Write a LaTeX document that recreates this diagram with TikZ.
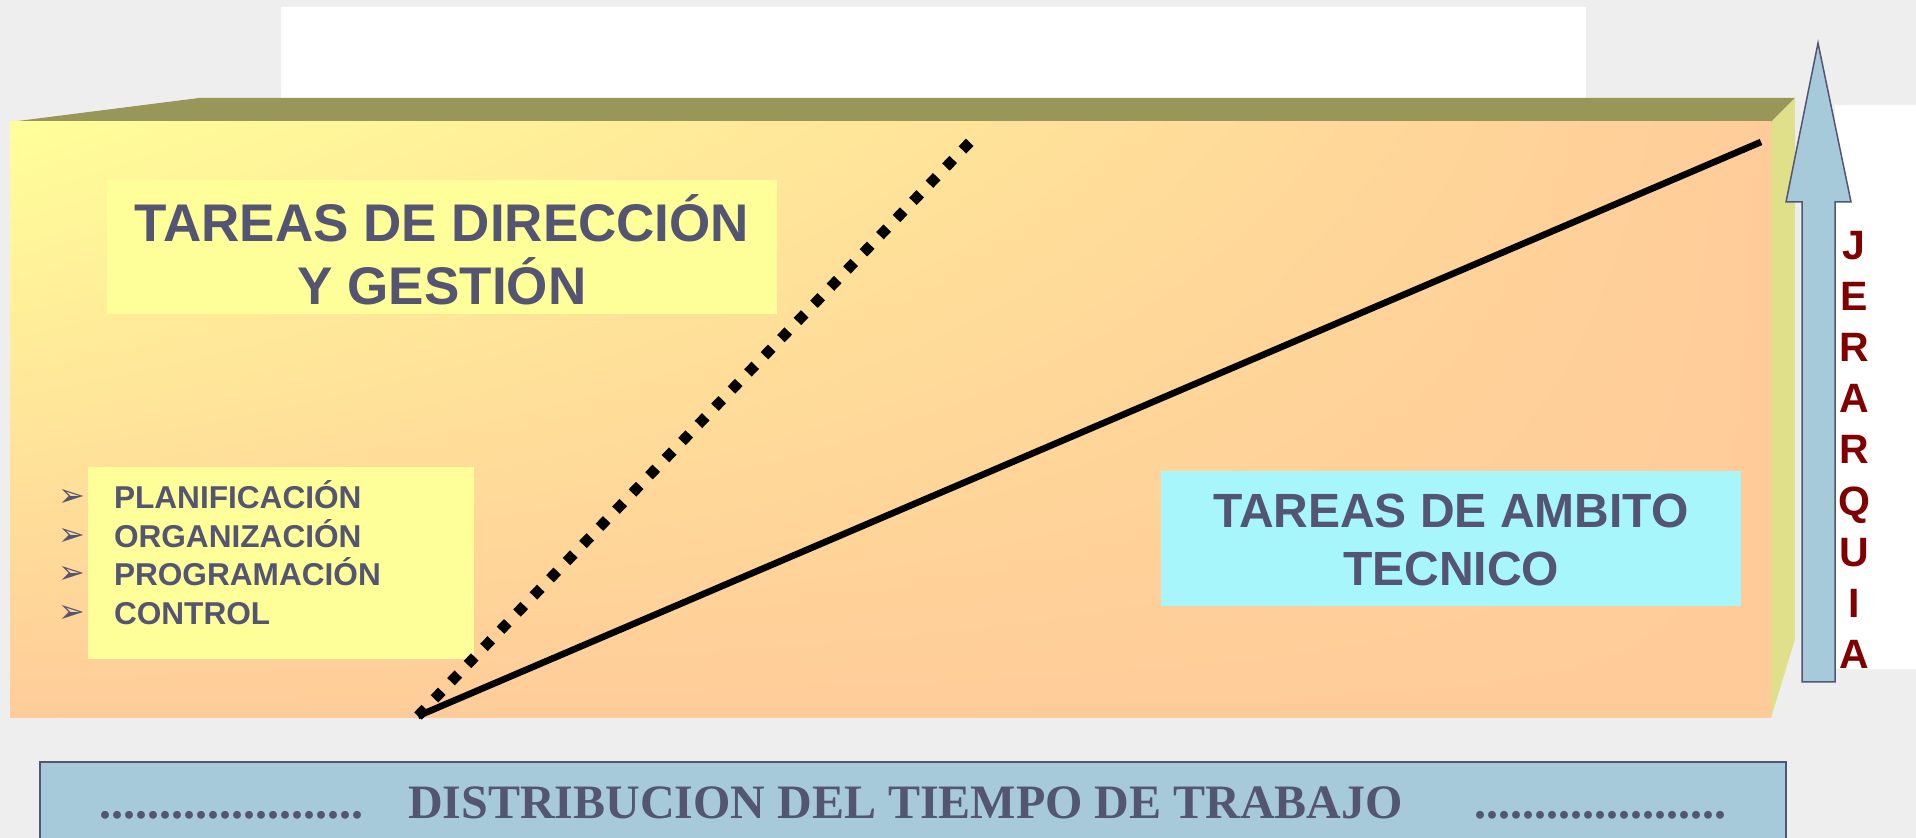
\documentclass[tikz,border=0pt]{standalone}
\usepackage{fontspec}
\usetikzlibrary{shadings}
\setmainfont{Liberation Sans}
\newfontfamily\arialf{Liberation Sans}
\newfontfamily\seriff{Liberation Serif}
\newfontfamily\dejavu{DejaVu Sans}
\definecolor{bgc}{RGB}{238,238,238}
\definecolor{txt}{RGB}{84,84,115}
\definecolor{topface}{RGB}{153,150,90}
\definecolor{sideface}{RGB}{224,224,138}
\definecolor{yel}{RGB}{255,255,153}
\definecolor{peach}{RGB}{255,204,153}
\definecolor{cyanbox}{RGB}{166,246,252}
\definecolor{arrowc}{RGB}{166,202,217}
\definecolor{darkred}{RGB}{128,0,0}
\newcommand\bul{\leavevmode\llap{{\dejavu\fontsize{16pt}{16pt}\selectfont\raisebox{1pt}{➢}}\hspace{14.5pt}}}
\tikzset{
  titlebox/.style={inner sep=0pt, align=center, text=txt,
    font=\arialf\bfseries\fontsize{26.5pt}{31.5pt}\selectfont},
  listbox/.style={fill=yel, inner ysep=0pt, inner xsep=13pt, text width=167pt,
    minimum width=193pt, minimum height=96pt, align=left, text=txt,
    font=\arialf\bfseries\fontsize{15.8pt}{19.2pt}\selectfont},
  vertword/.style={inner sep=0pt, align=center, text=darkred,
    font=\arialf\bfseries\fontsize{20.5pt}{25.6pt}\selectfont},
  barbox/.style={fill=arrowc, draw=txt, line width=1pt, inner sep=0pt,
    minimum width=873pt, minimum height=49pt, text height=17.5pt, text depth=10.5pt,
    text=txt, font=\seriff\bfseries\fontsize{24pt}{28pt}\selectfont},
  dotline/.style={line width=5.25pt, dash pattern=on 5.25pt off 6.65pt},
  solidline/.style={line width=3.3pt}
}
\begin{document}
\begin{tikzpicture}[x=0.5pt,y=-0.5pt]
\useasboundingbox (0,0) rectangle (1916,838);
% background
\fill[bgc] (0,0) rectangle (1916,838);
\fill[white] (281,7) rectangle (1586,98);
\fill[white] (1835,105) rectangle (1916,669);
% 3D block
\fill[topface] (10,122) -- (199,98) -- (1795,98) -- (1771,122) -- cycle;
\fill[sideface] (1771,122) -- (1795,98) -- (1795,639) -- (1771,718) -- cycle;
\shade[shading=bilinear interpolation, upper left=yel, upper right=peach, lower left=peach, lower right=peach]
  (10,122) rectangle (1771,718);
% boxes
\node[titlebox, fill=yel, minimum width=335pt, minimum height=67pt] (dir) at (442,247)
  {\rule{0pt}{26.5pt}TAREAS DE DIRECCIÓN\\Y GESTIÓN};
\node[listbox] (list) at (281,563)
  {\rule{0pt}{15pt}\bul PLANIFICACIÓN\\\bul ORGANIZACIÓN\\\bul PROGRAMACIÓN\\\bul CONTROL\rule[-11.4pt]{0pt}{11.4pt}};
\node[titlebox, fill=cyanbox, minimum width=290pt, minimum height=67.5pt,
  font=\arialf\bfseries\fontsize{24pt}{29pt}\selectfont] (amb) at (1451,538.5)
  {\rule{0pt}{18.5pt}TAREAS DE AMBITO\\TECNICO};
% hierarchy arrow
\filldraw[fill=arrowc, draw=txt, line width=0.75pt, line join=miter]
  (1818,43) -- (1851,202) -- (1835,202) -- (1835,682) -- (1802,682) -- (1802,202) -- (1786,202) -- cycle;
\node[vertword] (jer) at (1854,449.5)
  {\rule{0pt}{14.5pt}J\\E\\R\\A\\R\\Q\\U\\I\\A};
% lines
\coordinate (o) at (418,716);
\coordinate (dtop) at (971,141);
\coordinate (stop) at (1761,142);
\draw[dotline] (o) -- (dtop);
\draw[solidline] (o) -- (stop);
% bottom bar
\node[barbox] (dist) at (913,811)
  {......................\hspace{22.5pt}DISTRIBUCION DEL TIEMPO DE TRABAJO\hspace{36pt}.....................};
\end{tikzpicture}
\end{document}
